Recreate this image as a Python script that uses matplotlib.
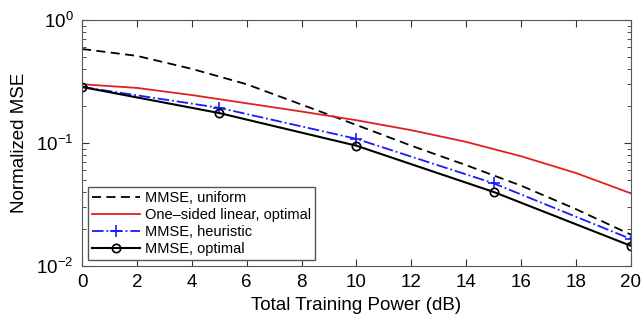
import matplotlib
matplotlib.use("Agg")
import matplotlib.pyplot as plt
from matplotlib.ticker import LogLocator, NullFormatter

plt.rcParams['font.family'] = ['Liberation Sans', 'DejaVu Sans']

# smooth curves (every 2 dB)
x_fine = [0, 2, 4, 6, 8, 10, 12, 14, 16, 18, 20]
mmse_uniform = [0.58, 0.51, 0.40, 0.30, 0.205, 0.14, 0.095, 0.066, 0.045, 0.029, 0.018]
one_sided = [0.30, 0.28, 0.245, 0.21, 0.18, 0.153, 0.127, 0.102, 0.078, 0.057, 0.039]

# marker curves (every 5 dB)
x_mark = [0, 5, 10, 15, 20]
mmse_heur = [0.285, 0.193, 0.108, 0.047, 0.0166]
mmse_opt = [0.285, 0.175, 0.095, 0.040, 0.0146]

fig = plt.figure(figsize=(6.41, 3.26), dpi=100)
ax = fig.add_axes([0.128, 0.184, 0.856, 0.755])

ax.plot(x_fine, mmse_uniform, 'k--', lw=1.3, dashes=(5, 3), label='MMSE, uniform')
ax.plot(x_fine, one_sided, color='#e02020', lw=1.3, label='One\u2013sided linear, optimal')
ax.plot(x_mark, mmse_heur, color='#1a1aff', ls='-.', lw=1.3, marker='+', ms=8, mew=1.2, label='MMSE, heuristic')
ax.plot(x_mark, mmse_opt, 'k-', lw=1.5, marker='o', ms=6, mfc='none', mew=1.2, label='MMSE, optimal')

ax.set_yscale('log')
ax.set_xlim(0, 20)
ax.set_ylim(1e-2, 1e0)
ax.set_xticks(range(0, 21, 2))
ax.yaxis.set_minor_locator(LogLocator(base=10, subs=range(2, 10)))
ax.yaxis.set_minor_formatter(NullFormatter())
ax.tick_params(which='both', direction='in', top=True, right=True, labelsize=13.5,
               colors='#333333', labelcolor='black', pad=6)
ax.tick_params(which='major', length=5)
ax.tick_params(which='minor', length=3)
for s in ax.spines.values():
    s.set_color('#555555')

ax.set_xlabel('Total Training Power (dB)', fontsize=13.5, labelpad=4)
ax.set_ylabel('Normalized MSE', fontsize=13.5, labelpad=6)

leg = ax.legend(loc='lower left', fontsize=10.5, fancybox=False, framealpha=1,
                edgecolor='#555555', handlelength=3.3, borderpad=0.3, labelspacing=0.2,
                handletextpad=0.3, borderaxespad=0.4)

fig.savefig('out.png', dpi=100)
